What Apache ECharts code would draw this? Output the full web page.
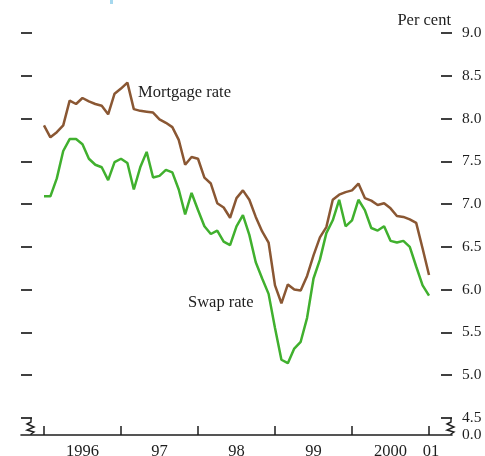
<!DOCTYPE html>
<html>
<head>
<meta charset="utf-8">
<script src="https://cdn.jsdelivr.net/npm/echarts@6/dist/echarts.min.js"></script>
<style>
  html, body { margin: 0; padding: 0; background: #fff; }
  #chart { width: 485px; height: 456px; }
</style>
</head>
<body>
<div id="chart"></div>
<script>
// monthly observations, Jan 1996 .. Jan 2001 (index 0 = first month)
var mortgageRate = [7.92, 7.78, 7.84, 7.92, 8.21, 8.17, 8.24, 8.20, 8.17, 8.15,
    8.05, 8.29, 8.35, 8.42, 8.11, 8.09, 8.08, 8.07, 7.99, 7.95,
    7.90, 7.75, 7.46, 7.55, 7.53, 7.31, 7.24, 7.01, 6.96, 6.84,
    7.07, 7.16, 7.05, 6.85, 6.68, 6.55, 6.05, 5.84, 6.06, 6.00,
    5.99, 6.16, 6.40, 6.61, 6.73, 7.05, 7.11, 7.14, 7.16, 7.24,
    7.07, 7.04, 6.99, 7.01, 6.95, 6.86, 6.85, 6.82, 6.78, 6.48,
    6.17];
var swapRate = [7.09, 7.09, 7.30, 7.62, 7.76, 7.76, 7.70, 7.53, 7.46, 7.43,
    7.28, 7.49, 7.53, 7.48, 7.17, 7.43, 7.61, 7.31, 7.33, 7.40,
    7.37, 7.17, 6.88, 7.13, 6.93, 6.74, 6.65, 6.69, 6.56, 6.52,
    6.74, 6.87, 6.64, 6.32, 6.13, 5.95, 5.55, 5.18, 5.14, 5.31,
    5.39, 5.67, 6.13, 6.35, 6.66, 6.81, 7.05, 6.74, 6.81, 7.05,
    6.93, 6.72, 6.69, 6.74, 6.57, 6.55, 6.57, 6.50, 6.27, 6.05,
    5.93];

// x axis: months since Jan 1996
var yearTicks = [0, 12, 24, 36, 48, 60];
var yearLabels = ['1996', '97', '98', '99', '2000', '01'];
var yearLabelAt = [6, 18, 30, 42, 54, 60.3];

// y axis (broken below 4.5, bottom shown as 0.0)
var yTicks = [4.5, 5.0, 5.5, 6.0, 6.5, 7.0, 7.5, 8.0, 8.5, 9.0];
var yLabelAt = [4.3, 4.5, 5.0, 5.5, 6.0, 6.5, 7.0, 7.5, 8.0, 8.5, 9.0];

function pairs(arr) {
    return arr.map(function (v, i) { return [i, v]; });
}

var serif = '"Liberation Serif", "DejaVu Serif", serif';
var ink = '#1e1e1e';

var chart = echarts.init(document.getElementById('chart'));
chart.setOption({
    animation: false,
    backgroundColor: '#fff',
    grid: { left: 21, right: 33, top: 33, bottom: 21, containLabel: false, outerBoundsMode: 'none' },
    xAxis: {
        type: 'value',
        min: -3.58,
        max: 63.58,
        axisLine: { show: true, onZero: false, lineStyle: { color: ink, width: 1.6 } },
        axisTick: {
            show: true, inside: true, length: 9,
            customValues: yearTicks,
            lineStyle: { color: ink, width: 1.5 }
        },
        axisLabel: {
            customValues: yearLabelAt,
            margin: 8,
            color: ink,
            fontFamily: serif,
            fontSize: 16.5,
            formatter: function (v) {
                var i = yearLabelAt.indexOf(v);
                return i >= 0 ? yearLabels[i] : '';
            }
        },
        splitLine: { show: false }
    },
    yAxis: [{
        type: 'value',
        position: 'right',
        min: 4.3,
        max: 9.0,
        axisLine: { show: false, onZero: false },
        axisTick: {
            show: true, inside: true, length: 11,
            customValues: yTicks,
            lineStyle: { color: ink, width: 1.7 }
        },
        axisLabel: {
            customValues: yLabelAt,
            margin: 10,
            color: ink,
            fontFamily: serif,
            fontSize: 15.5,
            formatter: function (v) {
                return v < 4.4 ? '0.0' : v.toFixed(1);
            }
        },
        splitLine: { show: false }
    }, {
        type: 'value',
        position: 'left',
        min: 4.3,
        max: 9.0,
        axisLine: { show: false, onZero: false },
        axisTick: {
            show: true, inside: true, length: 11,
            customValues: yTicks,
            lineStyle: { color: ink, width: 1.7 }
        },
        axisLabel: { show: false },
        splitLine: { show: false }
    }],
    series: [{
        name: 'Mortgage rate',
        type: 'line',
        data: pairs(mortgageRate),
        showSymbol: false,
        symbol: 'none',
        lineStyle: { color: '#8a5733', width: 2.5 },
        z: 3
    }, {
        name: 'Swap rate',
        type: 'line',
        data: pairs(swapRate),
        showSymbol: false,
        symbol: 'none',
        lineStyle: { color: '#40b02e', width: 2.5 },
        z: 2
    }],
    graphic: [
        { type: 'text', x: 451, y: 21, style: { text: 'Per cent', fill: ink, font: '16.5px ' + serif, textAlign: 'right', textVerticalAlign: 'middle' } },
        { type: 'text', x: 138, y: 93, style: { text: 'Mortgage rate', fill: ink, font: '16.5px ' + serif, textAlign: 'left', textVerticalAlign: 'middle' } },
        { type: 'text', x: 188, y: 303, style: { text: 'Swap rate', fill: ink, font: '16.5px ' + serif, textAlign: 'left', textVerticalAlign: 'middle' } },
        // axis break marks
        { type: 'polyline', shape: { points: [[31, 418], [31, 422], [27, 424], [34, 427], [27, 430], [34, 432], [31, 434], [31, 435]] }, style: { stroke: ink, lineWidth: 1.4, fill: null } },
        { type: 'polyline', shape: { points: [[451, 418], [451, 422], [447, 424], [454, 427], [447, 430], [454, 432], [451, 434], [451, 435]] }, style: { stroke: ink, lineWidth: 1.4, fill: null } },
        { type: 'rect', shape: { x: 110, y: 0, width: 3, height: 4 }, style: { fill: '#a6d8ee' } }
    ]
});
</script>
</body>
</html>
